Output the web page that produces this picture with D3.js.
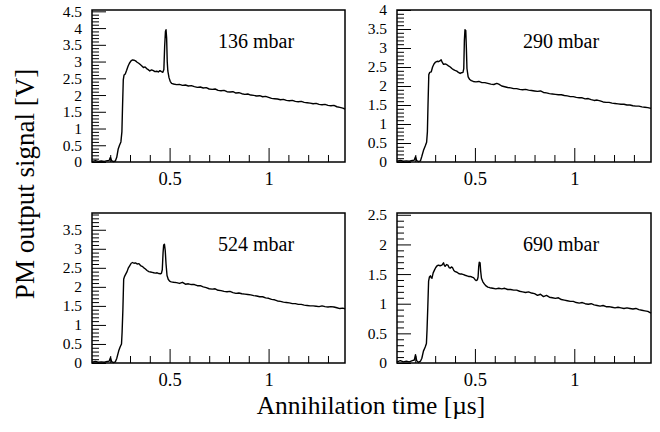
<!DOCTYPE html>
<html>
<head>
<meta charset="utf-8">
<script src="https://cdn.jsdelivr.net/npm/d3@7"></script>
<style>
  body { margin: 0; background: #fff; }
  svg text { font-family: "Liberation Serif", "Times New Roman", serif; fill: #000; }
</style>
</head>
<body>
<div id="chart"></div>
<script>
(function(){
  'use strict';

  // data: [time in µs, signal in V]
  var baseline = [[0.108,0.02],[0.125,0.04],[0.14,0.02],[0.155,0.03],[0.17,0.02],[0.185,0.04],[0.195,0.05],[0.201,0.14],[0.207,0.04],[0.216,0.01],[0.226,0.03]];

  var p136 = [[0.233,0.14],[0.24,0.38],[0.247,0.5],[0.254,0.6],[0.259,0.9],[0.262,1.6],[0.266,2.45],[0.27,2.6],[0.276,2.63],[0.283,2.74],[0.29,2.86],[0.297,2.95],[0.305,3.02],[0.313,3.05],[0.32,3.04],[0.328,3.02],[0.336,2.98],[0.344,2.95],[0.352,2.91],[0.36,2.87],[0.368,2.82],[0.376,2.84],[0.384,2.79],[0.392,2.76],[0.4,2.72],[0.409,2.75],[0.418,2.73],[0.426,2.7],[0.435,2.71],[0.443,2.69],[0.451,2.73],[0.459,2.7],[0.466,2.68],[0.471,2.76],[0.475,3.45],[0.479,3.9],[0.482,3.95],[0.485,3.7],[0.488,3.0],[0.491,2.72],[0.497,2.52],[0.503,2.41],[0.51,2.35],
    [0.52,2.33],[0.535,2.31],[0.55,2.32],[0.565,2.29],[0.58,2.3],[0.595,2.27],[0.61,2.28],[0.625,2.25],[0.64,2.23],[0.655,2.24],[0.67,2.21],[0.685,2.22],[0.7,2.18],[0.715,2.17],[0.73,2.18],[0.745,2.14],[0.76,2.13],[0.775,2.14],[0.79,2.1],[0.805,2.09],[0.82,2.1],[0.835,2.06],[0.85,2.07],[0.865,2.04],[0.88,2.02],[0.895,2.03],[0.91,2.0],[0.925,1.99],[0.94,1.97],[0.955,1.98],[0.97,1.95],[0.985,1.96],[1.0,1.93],[1.015,1.9],[1.03,1.89],[1.045,1.88],[1.06,1.86],[1.075,1.87],[1.09,1.84],[1.105,1.83],[1.12,1.84],[1.135,1.81],[1.15,1.8],[1.165,1.81],[1.18,1.78],[1.195,1.77],[1.21,1.76],[1.225,1.74],[1.24,1.75],[1.255,1.72],[1.27,1.71],[1.285,1.72],[1.3,1.69],[1.315,1.68],[1.33,1.69],[1.345,1.65],[1.36,1.63],[1.375,1.61],[1.386,1.58]];

  var p290 = [[0.233,0.15],[0.241,0.3],[0.25,0.42],[0.257,0.52],[0.261,0.8],[0.264,1.5],[0.268,2.3],[0.273,2.36],[0.28,2.37],[0.287,2.5],[0.294,2.58],[0.302,2.63],[0.31,2.65],[0.317,2.64],[0.324,2.66],[0.33,2.69],[0.336,2.62],[0.342,2.57],[0.35,2.58],[0.359,2.56],[0.367,2.53],[0.376,2.5],[0.384,2.46],[0.392,2.43],[0.4,2.41],[0.409,2.39],[0.417,2.36],[0.426,2.33],[0.433,2.35],[0.44,2.36],[0.444,2.46],[0.447,3.2],[0.45,3.48],[0.454,3.46],[0.457,3.0],[0.46,2.46],[0.466,2.24],[0.474,2.17],[0.482,2.14],[0.492,2.12],
    [0.505,2.11],[0.52,2.12],[0.535,2.09],[0.55,2.09],[0.565,2.07],[0.58,2.05],[0.595,2.04],[0.61,2.07],[0.62,2.05],[0.635,2.0],[0.65,1.98],[0.665,1.96],[0.68,1.95],[0.695,1.93],[0.71,1.93],[0.725,1.91],[0.74,1.9],[0.755,1.91],[0.77,1.89],[0.785,1.88],[0.8,1.87],[0.815,1.86],[0.83,1.87],[0.845,1.83],[0.86,1.82],[0.875,1.8],[0.89,1.79],[0.905,1.78],[0.92,1.77],[0.935,1.77],[0.95,1.75],[0.965,1.74],[0.98,1.72],[0.995,1.72],[1.01,1.7],[1.025,1.69],[1.04,1.69],[1.055,1.66],[1.07,1.67],[1.085,1.64],[1.1,1.62],[1.115,1.63],[1.13,1.61],[1.145,1.58],[1.16,1.57],[1.175,1.57],[1.19,1.55],[1.205,1.54],[1.22,1.53],[1.235,1.52],[1.25,1.52],[1.265,1.5],[1.28,1.5],[1.295,1.48],[1.31,1.47],[1.325,1.47],[1.34,1.45],[1.355,1.44],[1.37,1.43],[1.386,1.41]];

  var p524 = [[0.233,0.12],[0.243,0.32],[0.25,0.42],[0.257,0.5],[0.26,0.8],[0.264,1.4],[0.268,2.2],[0.272,2.27],[0.279,2.34],[0.285,2.4],[0.292,2.5],[0.299,2.56],[0.306,2.62],[0.313,2.64],[0.32,2.62],[0.328,2.63],[0.336,2.6],[0.345,2.61],[0.353,2.56],[0.361,2.54],[0.37,2.5],[0.378,2.47],[0.386,2.43],[0.395,2.4],[0.404,2.39],[0.412,2.38],[0.42,2.37],[0.429,2.36],[0.437,2.37],[0.446,2.35],[0.454,2.34],[0.459,2.36],[0.463,2.45],[0.467,2.9],[0.47,3.1],[0.474,3.12],[0.478,2.95],[0.482,2.6],[0.487,2.3],[0.493,2.2],[0.5,2.15],[0.508,2.13],
    [0.52,2.12],[0.535,2.11],[0.55,2.09],[0.565,2.12],[0.58,2.07],[0.595,2.08],[0.61,2.06],[0.625,2.06],[0.64,2.03],[0.655,2.03],[0.67,2.0],[0.685,1.98],[0.7,1.95],[0.715,1.94],[0.73,1.95],[0.745,1.91],[0.76,1.9],[0.775,1.88],[0.79,1.87],[0.805,1.88],[0.82,1.85],[0.835,1.83],[0.85,1.84],[0.865,1.82],[0.88,1.81],[0.895,1.8],[0.91,1.79],[0.925,1.77],[0.94,1.76],[0.955,1.74],[0.97,1.74],[0.985,1.71],[1.0,1.7],[1.015,1.67],[1.03,1.66],[1.045,1.63],[1.06,1.62],[1.075,1.6],[1.09,1.59],[1.105,1.58],[1.12,1.56],[1.135,1.56],[1.15,1.54],[1.165,1.54],[1.18,1.52],[1.195,1.51],[1.21,1.5],[1.225,1.5],[1.24,1.49],[1.255,1.48],[1.27,1.5],[1.285,1.48],[1.3,1.47],[1.315,1.48],[1.33,1.47],[1.345,1.45],[1.36,1.43],[1.375,1.44],[1.386,1.42]];

  var p690 = [[0.233,0.08],[0.241,0.2],[0.25,0.27],[0.256,0.33],[0.259,0.55],[0.263,0.95],[0.267,1.38],[0.271,1.45],[0.276,1.47],[0.28,1.44],[0.284,1.43],[0.29,1.52],[0.297,1.57],[0.303,1.61],[0.31,1.64],[0.317,1.65],[0.325,1.64],[0.334,1.65],[0.342,1.69],[0.346,1.65],[0.35,1.63],[0.357,1.66],[0.364,1.65],[0.37,1.61],[0.376,1.6],[0.382,1.62],[0.387,1.61],[0.394,1.56],[0.401,1.54],[0.41,1.53],[0.418,1.51],[0.427,1.5],[0.435,1.5],[0.443,1.49],[0.451,1.48],[0.46,1.47],[0.468,1.46],[0.476,1.46],[0.485,1.45],[0.493,1.44],[0.5,1.41],[0.506,1.39],[0.512,1.4],[0.516,1.45],[0.519,1.62],[0.522,1.7],[0.526,1.69],[0.529,1.55],[0.533,1.43],[0.54,1.37],[0.548,1.33],[0.556,1.3],[0.565,1.28],
    [0.575,1.27],[0.59,1.26],[0.605,1.25],[0.62,1.26],[0.635,1.25],[0.65,1.26],[0.665,1.24],[0.68,1.24],[0.695,1.23],[0.71,1.23],[0.725,1.21],[0.74,1.2],[0.755,1.19],[0.77,1.2],[0.785,1.18],[0.8,1.17],[0.815,1.14],[0.83,1.16],[0.845,1.12],[0.86,1.14],[0.875,1.11],[0.89,1.1],[0.905,1.09],[0.92,1.1],[0.935,1.07],[0.95,1.06],[0.965,1.05],[0.98,1.04],[0.995,1.04],[1.01,1.02],[1.025,1.01],[1.04,1.02],[1.055,1.0],[1.07,0.99],[1.085,1.0],[1.1,0.98],[1.115,0.97],[1.13,0.96],[1.145,0.97],[1.16,0.95],[1.175,0.95],[1.19,0.94],[1.205,0.93],[1.22,0.94],[1.235,0.93],[1.25,0.92],[1.265,0.93],[1.28,0.92],[1.295,0.91],[1.31,0.92],[1.325,0.9],[1.34,0.89],[1.355,0.88],[1.37,0.87],[1.386,0.84]];

  var labels = ['136 mbar', '290 mbar', '524 mbar', '690 mbar'];
  var series = [p136, p290, p524, p690];
  var yMax = [4.54, 4.0, 3.94, 2.53];
  var yTickLabels = [
    [0, 0.5, 1, 1.5, 2, 2.5, 3, 3.5, 4, 4.5],
    [0, 0.5, 1, 1.5, 2, 2.5, 3, 3.5, 4],
    [0, 0.5, 1, 1.5, 2, 2.5, 3, 3.5],
    [0, 0.5, 1, 1.5, 2, 2.5]
  ];
  var xTickLabels = [0.5, 1];
  var xDomain = [0.108, 1.386];

  var W = 660, H = 432;
  var boxes = [
    {x: 92, y: 10, w: 253, h: 152},
    {x: 397, y: 10, w: 254, h: 152},
    {x: 92, y: 213, w: 253, h: 150},
    {x: 397, y: 213, w: 254, h: 150}
  ];

  var svg = d3.select('#chart').append('svg')
    .attr('width', W)
    .attr('height', H);

  for (var i = 0; i < 4; i++) {
    addPanel(boxes[i], baseline.concat(series[i]), yMax[i], yTickLabels[i], labels[i]);
  }

  function addPanel(b, data, ymax, yticks, label) {
    var g = svg.append('g').attr('transform', 'translate(' + b.x + ',' + b.y + ')');

    var x = d3.scaleLinear().domain(xDomain).range([0, b.w]);
    var y = d3.scaleLinear().domain([0, ymax]).range([b.h, 0]);

    var xMinor = d3.range(1, 14).map(function(k){ return k / 10; })
      .filter(function(v){ return v > xDomain[0] && v < xDomain[1] && xTickLabels.indexOf(v) < 0; });
    var yMinor = d3.range(0, 50).map(function(k){ return k / 10; })
      .filter(function(v){ return v <= ymax && yticks.indexOf(v) < 0; });

    // x axis, ticks pointing up into the frame
    g.append('g')
      .attr('class', 'x minor')
      .attr('transform', 'translate(0,' + b.h + ')')
      .call(d3.axisBottom(x).tickValues(xMinor).tickSize(-7).tickFormat(''));
    g.append('g')
      .attr('class', 'x major')
      .attr('transform', 'translate(0,' + b.h + ')')
      .call(d3.axisBottom(x).tickValues(xTickLabels).tickSize(-14).tickPadding(10)
        .tickFormat(function(d){ return String(d); }))
      .selectAll('text').style('font-size', '18.5px');

    // y axis, ticks pointing right
    g.append('g')
      .attr('class', 'y minor')
      .call(d3.axisLeft(y).tickValues(yMinor).tickSize(-7).tickFormat(''));
    g.append('g')
      .attr('class', 'y major')
      .call(d3.axisLeft(y).tickValues(yticks).tickSize(-14).tickPadding(10)
        .tickFormat(function(d){ return String(d); }))
      .selectAll('text').style('font-size', '15.5px');

    g.selectAll('.domain').remove();
    g.selectAll('.tick line').style('stroke', '#000').style('stroke-width', 1);

    g.append('rect')
      .attr('width', b.w)
      .attr('height', b.h)
      .style('fill', 'none')
      .style('stroke', '#000')
      .style('stroke-width', 1.5);

    var line = d3.line()
      .x(function(d){ return x(d[0]); })
      .y(function(d){ return y(d[1]); });

    g.append('path')
      .datum(data)
      .attr('d', line)
      .style('fill', 'none')
      .style('stroke', '#000')
      .style('stroke-width', 1.4)
      .style('stroke-linejoin', 'round');

    g.append('text')
      .attr('x', 126)
      .attr('y', 38)
      .style('font-size', '20px')
      .text(label);
  }

  svg.append('text')
    .attr('x', 371)
    .attr('y', 414)
    .attr('text-anchor', 'middle')
    .style('font-size', '25.5px')
    .text('Annihilation time [µs]');

  svg.append('text')
    .attr('transform', 'translate(34,184) rotate(-90)')
    .attr('text-anchor', 'middle')
    .style('font-size', '27px')
    .text('PM output signal [V]');

}());
</script>
</body>
</html>
